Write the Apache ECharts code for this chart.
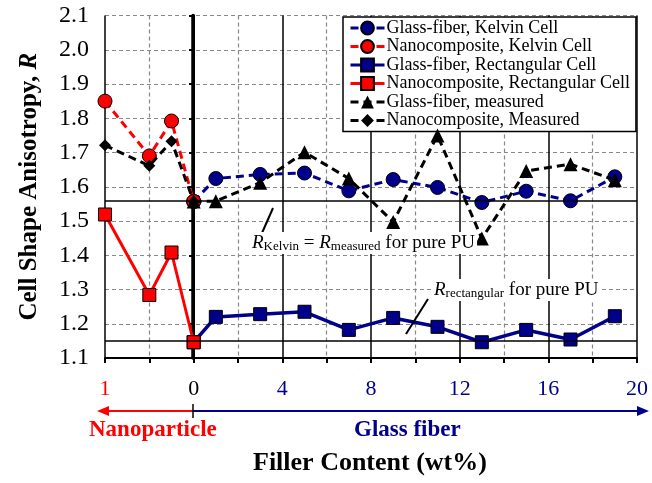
<!DOCTYPE html>
<html>
<head>
<meta charset="UTF-8">
<title>Cell Shape Anisotropy</title>
<script src="https://cdn.jsdelivr.net/npm/echarts@6/dist/echarts.min.js"></script>
<style>
  html, body { margin: 0; padding: 0; background: #fff; }
  #main { width: 652px; height: 483px; }
</style>
</head>
<body>
<div id="main"></div>
<script type="text/javascript">
    // data (x: wt%, nanoparticle side plotted at negative x)
    var nanoX = [-4, -2, -1, 0];
    var glassX = [0, 1, 3, 5, 7, 9, 11, 13, 15, 17, 19];

    var nanoKelvin = [1.850, 1.690, 1.792, 1.557];
    var nanoRect = [1.519, 1.284, 1.408, 1.146];
    var nanoMeasured = [1.721, 1.661, 1.733, 1.557];

    var glassKelvin = [1.557, 1.624, 1.636, 1.640, 1.588, 1.621, 1.598, 1.554, 1.587, 1.559, 1.629];
    var glassRect = [1.146, 1.220, 1.228, 1.235, 1.182, 1.217, 1.191, 1.146, 1.182, 1.154, 1.222];
    var glassMeasured = [1.557, 1.558, 1.612, 1.701, 1.624, 1.497, 1.750, 1.449, 1.646, 1.666, 1.619];

    var pureKelvin = 1.557;
    var pureRect = 1.146;

    var xTickLabels = { '-4': '1', '0': '0', '4': '4', '8': '8', '12': '12', '16': '16', '20': '20' };

    var FONT = '"Liberation Serif", "DejaVu Serif", serif';
    var NAVY = '#00008b';
    var RED = '#ff0000';

    function pairs(xs, ys) {
        return xs.map(function (x, i) { return [x, ys[i]]; });
    }

    // rich styles for the R_sub annotations
    var annRich = {
        i: { fontFamily: FONT, fontSize: 19, fontStyle: 'italic', fill: '#000', lineHeight: 22 },
        n: { fontFamily: FONT, fontSize: 19, fill: '#000', lineHeight: 22 },
        s: { fontFamily: FONT, fontSize: 13, fill: '#000', lineHeight: 13, padding: [8, 0, 0, 0] }
    };

    var myChart = echarts.init(document.getElementById('main'));

    var dashed = [8, 5];

    var option = {
        animation: false,
        backgroundColor: '#fff',
        grid: { left: 105, right: 15, top: 15.5, bottom: 125 },
        legend: {
            orient: 'vertical',
            left: 343,
            top: 17,
            backgroundColor: '#fff',
            borderColor: '#000',
            borderWidth: 1.5,
            borderRadius: 0,
            padding: [2, 6, 2, 6],
            itemGap: 0.5,
            itemWidth: 34,
            itemHeight: 16,
            lineStyle: { width: 3 },
            textStyle: { fontFamily: FONT, fontSize: 18, lineHeight: 18, color: '#000', padding: [0, 0, 0, -3] },
            data: [
                'Glass-fiber, Kelvin Cell',
                'Nanocomposite, Kelvin Cell',
                'Glass-fiber, Rectangular Cell',
                'Nanocomposite, Rectangular Cell',
                'Glass-fiber, measured',
                'Nanocomposite, Measured'
            ]
        },
        xAxis: {
            type: 'value',
            min: -4,
            max: 20,
            interval: 4,
            axisLine: { onZero: false, lineStyle: { color: '#000', width: 2 } },
            axisTick: { show: true, length: 5, lineStyle: { color: '#000', width: 2 } },
            minorTick: { show: true, splitNumber: 2, length: 5, lineStyle: { color: '#000', width: 2 } },
            splitLine: { show: true, lineStyle: { color: '#000', width: 1.5, type: 'solid' } },
            minorSplitLine: { show: true, lineStyle: { color: '#888', width: 1.2, type: [4, 3] } },
            axisLabel: {
                margin: 20,
                fontFamily: FONT,
                fontSize: 22,
                formatter: function (v) { return xTickLabels[String(v)]; },
                color: function (v) {
                    if (Number(v) < 0) return RED;
                    if (Number(v) === 0) return '#000';
                    return NAVY;
                }
            }
        },
        yAxis: [{
            type: 'value',
            min: 1.1,
            max: 2.1,
            interval: 0.1,
            name: '{b|Cell Shape Anisotropy, }{bi|R}',
            nameLocation: 'middle',
            nameRotate: 90,
            nameGap: 63,
            nameTextStyle: {
                rich: {
                    b: { fontFamily: FONT, fontSize: 25, fontWeight: 'bold', color: '#000' },
                    bi: { fontFamily: FONT, fontSize: 25, fontWeight: 'bold', fontStyle: 'italic', color: '#000' }
                }
            },
            axisLine: { show: true, lineStyle: { color: '#000', width: 2 } },
            axisTick: { show: false },
            splitLine: { show: true, lineStyle: { color: '#888', width: 1.2, type: [4, 3] } },
            axisLabel: {
                margin: 16,
                fontFamily: FONT,
                fontSize: 24,
                color: '#000',
                formatter: function (v) { return v.toFixed(1); }
            }
        }, {
            // thick line at x = 0 with cross ticks
            type: 'value',
            position: 'left',
            offset: -88,
            min: 1.1,
            max: 2.1,
            interval: 0.1,
            axisLine: { show: true, lineStyle: { color: '#000', width: 3.5 } },
            axisTick: { show: true, length: 4, lineStyle: { color: '#000', width: 2 } },
            axisLabel: { show: false },
            splitLine: { show: false }
        }],
        series: [
            {
                name: 'Glass-fiber, Kelvin Cell',
                type: 'line',
                data: pairs(glassX, glassKelvin),
                symbol: 'circle',
                symbolSize: 14,
                z: 3,
                lineStyle: { color: NAVY, width: 3, type: dashed },
                itemStyle: { color: NAVY, borderColor: '#000', borderWidth: 1 },
                markLine: {
                    silent: true,
                    symbol: ['none', 'none'],
                    label: { show: false },
                    lineStyle: { color: '#000', width: 1.5, type: 'solid' },
                    data: [{ yAxis: pureKelvin }, { yAxis: pureRect }]
                }
            },
            {
                name: 'Nanocomposite, Kelvin Cell',
                type: 'line',
                data: pairs(nanoX, nanoKelvin),
                symbol: 'circle',
                symbolSize: 14,
                z: 3,
                lineStyle: { color: RED, width: 3, type: dashed },
                itemStyle: { color: RED, borderColor: '#000', borderWidth: 1 }
            },
            {
                name: 'Glass-fiber, Rectangular Cell',
                type: 'line',
                data: pairs(glassX, glassRect),
                symbol: 'rect',
                symbolSize: 13,
                z: 3,
                lineStyle: { color: NAVY, width: 3.5 },
                itemStyle: { color: NAVY, borderColor: '#000', borderWidth: 1 }
            },
            {
                name: 'Nanocomposite, Rectangular Cell',
                type: 'line',
                data: pairs(nanoX, nanoRect),
                symbol: 'rect',
                symbolSize: 13,
                z: 3,
                lineStyle: { color: RED, width: 3 },
                itemStyle: { color: RED, borderColor: '#000', borderWidth: 1 }
            },
            {
                name: 'Glass-fiber, measured',
                type: 'line',
                data: pairs(glassX, glassMeasured),
                symbol: 'triangle',
                symbolSize: 14,
                z: 4,
                lineStyle: { color: '#000', width: 3, type: dashed },
                itemStyle: { color: '#000' }
            },
            {
                name: 'Nanocomposite, Measured',
                type: 'line',
                data: pairs(nanoX, nanoMeasured),
                symbol: 'diamond',
                symbolSize: 12,
                z: 4,
                lineStyle: { color: '#000', width: 3, type: dashed },
                itemStyle: { color: '#000' }
            }
        ],
        graphic: [
            // annotation: Kelvin = measured for pure PU
            { type: 'line', z: 50, shape: { x1: 273, y1: 208, x2: 262, y2: 233 }, style: { stroke: '#000', lineWidth: 2 } },
            {
                type: 'text', z: 50, left: 250, top: 232,
                style: {
                    text: '{i|R}{s|Kelvin}{n| = }{i|R}{s|measured}{n| for pure PU}',
                    backgroundColor: '#fff',
                    padding: [0, 2, 0, 2],
                    rich: annRich
                }
            },
            // annotation: rectangular for pure PU
            { type: 'line', z: 50, shape: { x1: 428, y1: 299, x2: 406, y2: 334 }, style: { stroke: '#000', lineWidth: 2 } },
            {
                type: 'text', z: 50, left: 432, top: 279,
                style: {
                    text: '{i|R}{s|rectangular}{n| for pure PU}',
                    backgroundColor: '#fff',
                    padding: [0, 2, 0, 2],
                    rich: annRich
                }
            },
            // arrows under the x axis
            { type: 'line', shape: { x1: 104, y1: 411, x2: 193, y2: 411 }, style: { stroke: RED, lineWidth: 2 } },
            { type: 'polygon', shape: { points: [[97, 411], [109, 406], [109, 416]] }, style: { fill: RED } },
            { type: 'line', shape: { x1: 193, y1: 411, x2: 641, y2: 411 }, style: { stroke: NAVY, lineWidth: 2 } },
            { type: 'polygon', shape: { points: [[649, 411], [637, 406], [637, 416]] }, style: { fill: NAVY } },
            { type: 'line', shape: { x1: 193, y1: 404, x2: 193, y2: 418 }, style: { stroke: '#000', lineWidth: 1.5 } },
            {
                type: 'text', left: 89, top: 419,
                style: { text: 'Nanoparticle', fontFamily: FONT, fontSize: 23, fontWeight: 'bold', fill: RED }
            },
            {
                type: 'text', left: 354, top: 419,
                style: { text: 'Glass fiber', fontFamily: FONT, fontSize: 23, fontWeight: 'bold', fill: NAVY }
            },
            {
                type: 'text', left: 253, top: 450,
                style: { text: 'Filler Content (wt%)', fontFamily: FONT, fontSize: 26, fontWeight: 'bold', fill: '#000' }
            }
        ]
    };

    myChart.setOption(option);
</script>
</body>
</html>
